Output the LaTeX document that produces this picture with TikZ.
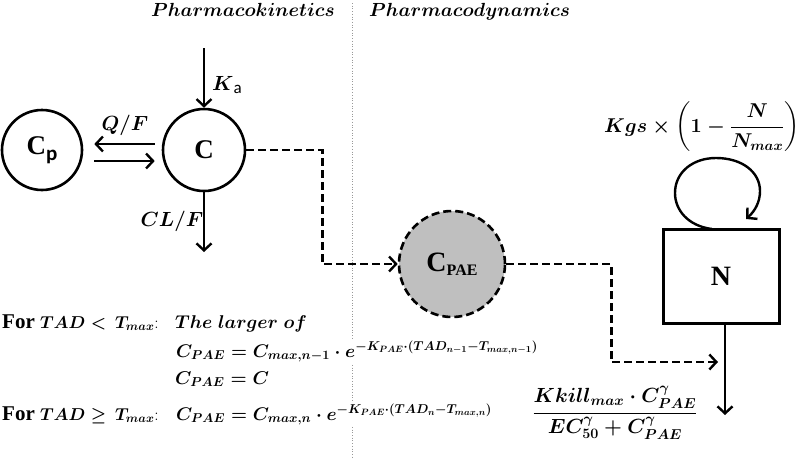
\RequirePackage{fix-cm}
\documentclass[tikz,border=0pt]{standalone}
\usepackage{amsmath}
\usepackage{fontspec}
\newfontfamily\tnrfont{Liberation Serif}
\newfontfamily\calfont{Carlito}
\usetikzlibrary{arrows.meta}
\begin{document}
\begin{tikzpicture}[x=1pt,y=-1pt,
  every node/.style={inner sep=1pt},
  tip/.style={-{Straight Barb[length=7pt,width=15pt,line width=2.4pt]}},
  circ/.style={draw, circle, line width=2.6pt, inner sep=0pt},
  arr/.style={line width=2.6pt, tip},
  dsh/.style={line width=2.6pt, dash pattern=on 8pt off 4pt, tip},
  head/.style={font=\fontsize{19}{22}\selectfont\boldmath, anchor=base},
  lab/.style={font=\fontsize{20.5}{22}\selectfont\boldmath},
  forl/.style={font=\fontsize{17.2}{20}\selectfont\boldmath, anchor=base west, inner sep=0pt},
  txt/.style={font=\fontsize{18.5}{22}\selectfont\boldmath, anchor=base west, inner sep=0pt},
  eqn/.style={font=\fontsize{18.3}{22}\selectfont\boldmath, anchor=base west, inner sep=1pt, fill=white}]
\useasboundingbox (0,0) rectangle (800,458);
\fill[white] (0,0) rectangle (800,458);
% divider
\draw[gray!80, line width=0.7pt, dotted] (352,3) -- (352,458);
% headings
\node[head, anchor=base east] (pk) at (336,16) {$\boldsymbol{Pharmacokinetics}$};
\node[head, anchor=base west] (pd) at (368,16) {$\boldsymbol{Pharmacodynamics}$};
% PK nodes
\node[circ, minimum size=80pt] (Cp) at (42,150) {\fontsize{27}{28}\selectfont\tnrfont\bfseries C\raisebox{-6pt}{\fontsize{21}{22}\selectfont\calfont\bfseries p}};
\node[circ, minimum size=82pt] (C) at (204,150) {\fontsize{27}{28}\selectfont\tnrfont\bfseries C};
\coordinate (kain) at (204,48);
\coordinate (clout) at (204,252);
\draw[arr] (kain) -- (C.north);
\node[lab, anchor=west] (ka) at (211,85) {$\boldsymbol{K}_{\text{\fontsize{17}{18}\selectfont\calfont a}}$};
\draw[arr, shorten <=7pt, shorten >=11pt] ([yshift=6pt]C.west) -- ([yshift=6pt]Cp.east);
\draw[arr, shorten <=11pt, shorten >=7pt] ([yshift=-11pt]Cp.east) -- ([yshift=-11pt]C.west);
\node[lab] (qf) at (125,125) {$\boldsymbol{Q/F}$};
\draw[arr] (C.south) -- (clout);
\node[lab] (clf) at (172,221) {$\boldsymbol{CL/F}$};
% PAE
\node[circ, dash pattern=on 8pt off 4pt, fill=gray!50, minimum size=106pt] (CPAE) at (452,264) {\fontsize{28}{28}\selectfont\tnrfont\bfseries C\raisebox{-4pt}{\fontsize{16}{17}\selectfont PAE}};
\draw[dsh] (C.east) -- ++(76,0) |- (CPAE.west);
% N
\node[draw, line width=3pt, minimum width=116pt, minimum height=94pt] (N) at (721,276) {\fontsize{28}{28}\selectfont\tnrfont\bfseries N};
\coordinate (kin) at (718,362);
\coordinate (nout) at (725,415);
\draw[dsh] (CPAE.east) -- ++(105,0) |- (kin);
\draw[arr] (N.south -| nout) -- (nout);
\coordinate (lpa) at (712,229);
\coordinate (lpb) at (746,219);
\draw[line width=2.4pt, tip] (lpa) .. controls (688,226) and (675,210) .. (675,193) .. controls (675,172) and (693,158) .. (716,158) .. controls (742,158) and (760,172) .. (760,191) .. controls (760,202) and (755,211) .. (lpb);
\node[font=\fontsize{20}{24}\selectfont\boldmath] (kgs) at (702,127) {$\boldsymbol{Kgs\times\left(1-\dfrac{N}{N_{max}}\right)}$};
% formulas
\node[forl] (f1) at (2,328) {{\fontsize{21}{22}\selectfont\tnrfont\bfseries For} $\boldsymbol{TAD<\,T_{max}}$:};
\node[txt] (f1b) at (175,328) {$\boldsymbol{The\ larger\ of}$};
\node[eqn] (f2) at (175,357) {$\boldsymbol{C_{PAE}=C_{max,n-1}\cdot e^{-K_{PAE}\cdot(TAD_{n-1}-T_{max,n-1})}}$};
\node[txt] (f3) at (175,384) {$\boldsymbol{C_{PAE}=C}$};
\node[eqn] (f4b) at (175,420) {$\boldsymbol{C_{PAE}=C_{max,n}\cdot e^{-K_{PAE}\cdot(TAD_{n}-T_{max,n})}}$};
\node[forl] (f4) at (2,420) {{\fontsize{21}{22}\selectfont\tnrfont\bfseries For} $\boldsymbol{TAD\geq\,T_{max}}$:};
\node[font=\fontsize{20.5}{24}\selectfont\boldmath] (kill) at (615,413) {$\boldsymbol{\dfrac{Kkill_{max}\cdot C^{\gamma}_{PAE}}{EC^{\gamma}_{50}+C^{\gamma}_{PAE}}}$};
\end{tikzpicture}
\end{document}
